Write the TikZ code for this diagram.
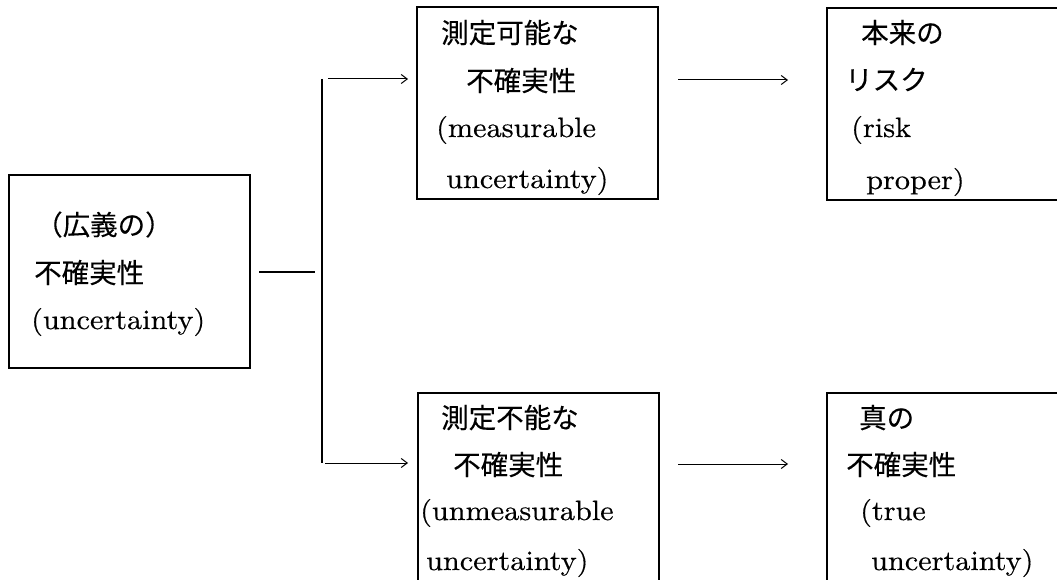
\documentclass[tikz,border=0pt]{standalone}
\usepackage{fontspec}
\newfontfamily\cjk{Noto Sans CJK JP}[FakeBold=0.25]
\newfontfamily\enf{lmroman10-regular.otf}[FakeBold=0.4,FakeStretch=1.08]
\usetikzlibrary{arrows.meta}
\begin{document}
\begin{tikzpicture}[x=1pt,y=-1pt,
  boxline/.style={draw=black,line width=1.8pt},
  jp/.style={anchor=base west,inner sep=0pt,font=\cjk\fontsize{27.5pt}{27.5pt}\selectfont},
  en/.style={anchor=base west,inner sep=0pt,font=\enf\fontsize{28pt}{28pt}\selectfont},
  thinarrow/.style={line width=1pt,-{Straight Barb[length=6pt,width=9pt,line width=1pt]}},
  joinline/.style={line width=1.8pt}]
\useasboundingbox (0,0) rectangle (1057,580);
\fill[white] (0,0) rectangle (1057,580);
\begin{scope}
\clip (0,0) rectangle (1057,580);
% boxes
\node[boxline,inner sep=0pt,minimum width=241pt,minimum height=193pt] (L) at (129.5,271.5) {};
\node[boxline,inner sep=0pt,minimum width=241pt,minimum height=192pt] (TM) at (537.5,103) {};
\node[boxline,inner sep=0pt,minimum width=260pt,minimum height=192pt,anchor=north west] (TR) at (826,7) {};
\node[boxline,inner sep=0pt,minimum width=241pt,minimum height=230pt,anchor=north west] (BM) at (417,392) {};
\node[boxline,inner sep=0pt,minimum width=260pt,minimum height=230pt,anchor=north west] (BR) at (826,392) {};
\end{scope}
% texts left box
\node[jp] (l1) at (35,235) {（広義の）};
\node[jp] (l2) at (34,283) {不確実性};
\node[en] (l3) at (31,329) {(uncertainty)};
% top middle
\node[jp] (tm1) at (441,43) {測定可能な};
\node[jp] (tm2) at (466,91) {不確実性};
\node[en] (tm3) at (436,137) {(measurable};
\node[en] (tm4) at (446,188) {uncertainty)};
% top right
\node[jp] (tr1) at (861,43) {本来の};
\node[jp] (tr2) at (845,90) {リスク};
\node[en] (tr3) at (851,137) {(risk};
\node[en] (tr4) at (866,189) {proper)};
% bottom middle
\node[jp] (bm1) at (441,428) {測定不能な};
\node[jp] (bm2) at (453,475) {不確実性};
\node[en] (bm3) at (420,520) {(unmeasurable};
\node[en] (bm4) at (426,570) {uncertainty)};
% bottom right
\node[jp] (br1) at (859,428) {真の};
\node[jp] (br2) at (846,475) {不確実性};
\node[en] (br3) at (860,520) {(true};
\node[en] (br4) at (871,570) {uncertainty)};
% connectors
\coordinate (h0) at (259,272);
\coordinate (h1) at (315,272);
\coordinate (vt) at (322,79);
\coordinate (vb) at (322,463);
\draw[joinline] (h0) -- (h1);
\draw[joinline] (vt) -- (vb);
\coordinate (a1s) at (328,79);  \coordinate (a1e) at (408,79);
\coordinate (a2s) at (678,80);  \coordinate (a2e) at (788,80);
\coordinate (a3s) at (325,463); \coordinate (a3e) at (408,463);
\coordinate (a4s) at (678,464); \coordinate (a4e) at (788,464);
\draw[thinarrow] (a1s) -- (a1e);
\draw[thinarrow] (a2s) -- (a2e);
\draw[thinarrow] (a3s) -- (a3e);
\draw[thinarrow] (a4s) -- (a4e);
\end{tikzpicture}
\end{document}
